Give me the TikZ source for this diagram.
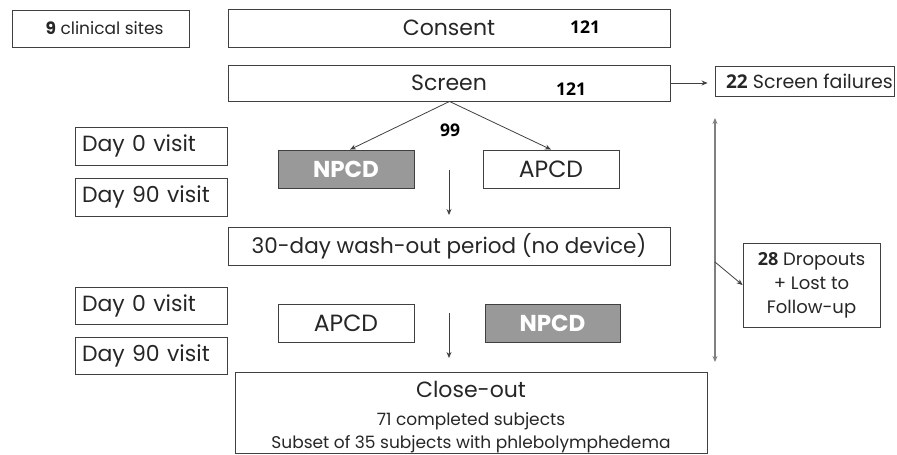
\documentclass[tikz,border=0pt]{standalone}
\usepackage{fontspec}
\setmainfont{Poppins}
\newfontfamily\numfont{Open Sans}
\usetikzlibrary{arrows.meta}
\definecolor{edge}{HTML}{404040}
\definecolor{boxgray}{HTML}{999999}
\tikzset{
  box/.style={draw=edge, line width=0.9pt, inner sep=0pt, align=center, text=black!85},
  graybox/.style={box, fill=boxgray, text=white},
  daybox/.style={box, font=\fontsize{22}{26}\selectfont, minimum width=152pt, minimum height=38pt, text width=138pt, align=left},
  num/.style={inner sep=0pt, font=\numfont\bfseries\fontsize{17.5}{19}\selectfont},
  conn/.style={draw=edge, line width=0.8pt, -{Stealth[length=6pt,width=5pt]}},
  bigtxt/.style={font=\fontsize{22}{26}\selectfont},
  devtxt/.style={font=\fontsize{23.5}{26}\selectfont},
  devbold/.style={font=\fontsize{23}{26}\selectfont\bfseries},
}
\begin{document}
\begin{tikzpicture}[x=1pt,y=-1pt]
\useasboundingbox (0,0) rectangle (897,455);
% left column
\node[box, minimum width=177pt, minimum height=37pt, font=\fontsize{17}{19}\selectfont] (sites) at (100.5,28.5) {\hspace*{8pt}\textbf{9} clinical sites};
\node[daybox] (d0a) at (151,146) {Day 0 visit};
\node[daybox] (d90a) at (151,197) {Day 90 visit};
\node[daybox, minimum height=37pt] (d0b) at (151,305.5) {Day 0 visit};
\node[daybox, minimum height=37pt] (d90b) at (151,355.5) {Day 90 visit};
% main column
\node[box, bigtxt, minimum width=442pt, minimum height=38pt] (consent) at (449,28) {Consent};
\node[num] (n1) at (585,27) {121};
\node[box, bigtxt, minimum width=442pt, minimum height=36pt] (screen) at (449,83) {Screen};
\node[num] (n2) at (571,89) {121};
\node[box, minimum width=179pt, minimum height=30pt, font=\fontsize{19}{23}\selectfont] (fail) at (804.5,81) {\hspace*{10pt}{\numfont\bfseries 22} Screen failures};
\node[num] (n3) at (450,130) {99};
\node[graybox, devbold, minimum width=136pt, minimum height=38pt] (npcd1) at (346,169) {NPCD};
\node[box, devtxt, minimum width=136pt, minimum height=38pt] (apcd1) at (551,169) {APCD};
\node[box, font=\fontsize{21.5}{26}\selectfont, minimum width=442pt, minimum height=38pt] (wash) at (449,246) {30-day wash-out period (no device)};
\node[box, minimum width=137pt, minimum height=84pt, font=\fontsize{18}{24}\selectfont] (drop) at (811.5,285) {{\numfont\bfseries 28} Dropouts\\+ Lost to\\Follow-up};
\node[box, devtxt, minimum width=136pt, minimum height=38pt] (apcd2) at (346,323) {APCD};
\node[graybox, devbold, minimum width=135pt, minimum height=38pt] (npcd2) at (552.5,323) {NPCD};
\node[box, minimum width=472pt, minimum height=81pt, font=\fontsize{17}{23}\selectfont] (close) at (471,412.5) {{\fontsize{22}{24}\selectfont\rule{0pt}{25.5pt}Close-out}\\[5pt]71 completed subjects\\Subset of 35 subjects with phlebolymphedema};
% coordinates
\coordinate (a1s) at (449,170);
\coordinate (a1e) at (449,215);
\coordinate (a2s) at (449,313);
\coordinate (a2e) at (449,358);
\coordinate (vt) at (715,118);
\coordinate (vb) at (715,362);
\coordinate (vm) at (715,262);
% connectors
\draw[conn] (screen.east) -- ([xshift=-7pt]screen.east -| fail.west);
\draw[conn] ([xshift=0.5pt]screen.south) -- ([xshift=4pt]npcd1.north);
\draw[conn] ([xshift=0.5pt]screen.south) -- (apcd1.north);
\draw[conn] (a1s) -- (a1e);
\draw[conn] (a2s) -- (a2e);
\draw[conn, draw=gray, line width=1.1pt, {Stealth[length=6pt,width=5pt]}-{Stealth[length=6pt,width=5pt]}] (vt) -- (vb);
\draw[conn] (vm) -- (drop.west);
\end{tikzpicture}
\end{document}
